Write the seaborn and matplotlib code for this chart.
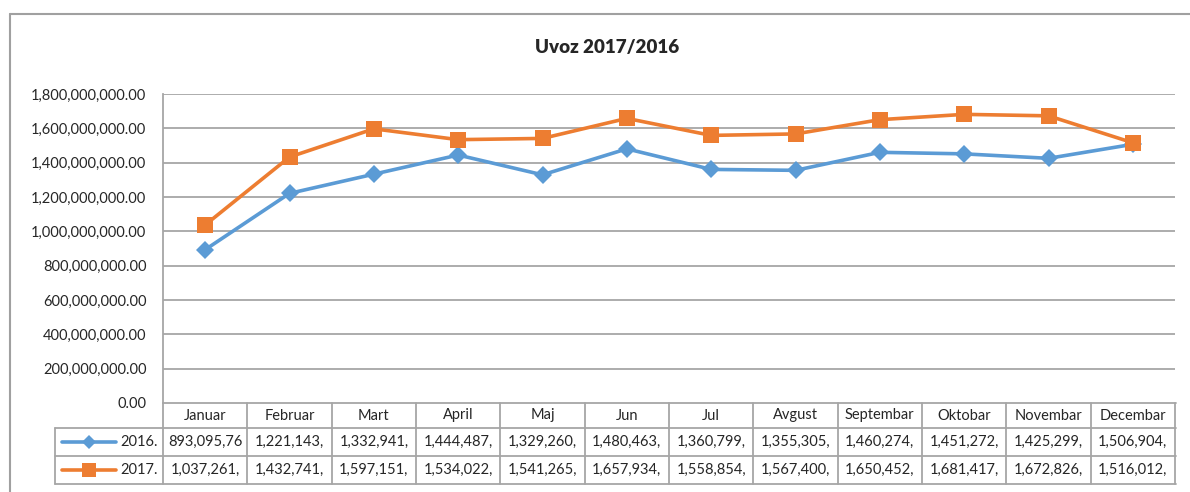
import matplotlib
matplotlib.use('Agg')
import matplotlib.pyplot as plt
import matplotlib.transforms as mtransforms
from matplotlib.lines import Line2D
import pandas as pd
import seaborn as sns

months = ['Januar', 'Februar', 'Mart', 'April', 'Maj', 'Jun', 'Jul', 'Avgust',
          'Septembar', 'Oktobar', 'Novembar', 'Decembar']
uvoz_2016 = [893095760, 1221143000, 1332941000, 1444487000, 1329260000, 1480463000,
             1360799000, 1355305000, 1460274000, 1451272000, 1425299000, 1506904000]
uvoz_2017 = [1037261000, 1432741000, 1597151000, 1534022000, 1541265000, 1657934000,
             1558854000, 1567400000, 1650452000, 1681417000, 1672826000, 1516012000]
series_names = ['2016.', '2017.']
colors = ['#5b9bd5', '#ed7d31']
markers = ['D', 's']
yticks = [0, 200000000, 400000000, 600000000, 800000000, 1000000000,
          1200000000, 1400000000, 1600000000, 1800000000]

data = pd.DataFrame({
    'Mjesec': months * 2,
    'Vrijednost': uvoz_2016 + uvoz_2017,
    'Godina': [series_names[0]] * 12 + [series_names[1]] * 12,
})

sns.set_style('white')
plt.rcParams['font.family'] = ['Lato', 'DejaVu Sans']

W, H = 1190, 492
fig = plt.figure(figsize=(W / 100, H / 100), dpi=100)
ax = fig.add_axes([163 / W, 1 - 403 / H, (1175 - 163) / W, (403 - 94) / H])

grid_c = '#a6a6a6'
for y in yticks[1:]:
    ax.axhline(y, color=grid_c, lw=1.3, zorder=0)

sns.lineplot(data=data, x='Mjesec', y='Vrijednost', hue='Godina', style='Godina',
             palette=colors, markers=markers, dashes=False, linewidth=2.6,
             markersize=9, markeredgewidth=0, legend=False, sort=False, ax=ax)
# bigger squares for 2017
for ln, ms in zip(ax.get_lines()[-2:], [9, 11]):
    ln.set_markersize(ms)

ax.set_xlim(-0.5, 11.5)
ax.set_ylim(0, 1800000000)
ax.set_yticks(yticks)
ax.set_yticklabels([f'{v:,.2f}' for v in yticks], fontsize=10.5)
ax.tick_params(axis='y', length=0, pad=12)
ax.set_xticks([])
ax.set_xlabel('')
ax.set_ylabel('')
for side in ['top', 'right', 'bottom']:
    ax.spines[side].set_visible(False)
ax.spines['left'].set_color(grid_c)
ax.spines['left'].set_linewidth(1.3)

fig.text(607 / W, 1 - 47 / H, 'Uvoz 2017/2016', ha='center', va='center',
         fontsize=13.5, fontweight='heavy')

# data table under the chart
tr = mtransforms.blended_transform_factory(ax.transData, fig.transFigure)
fy = lambda p: 1 - p / H
fx = lambda p: p / W
row_top, row1, row2, row_bot = 403, 428, 456, 484
tbl_c = '#a6a6a6'

# horizontal lines
fig.add_artist(Line2D([fx(163), fx(1176)], [fy(row_top)] * 2, color=tbl_c, lw=1.3))
for yy in [row1, row2, row_bot]:
    fig.add_artist(Line2D([fx(55), fx(1176)], [fy(yy)] * 2, color=tbl_c, lw=1.3))
# vertical lines
for i in range(13):
    fig.add_artist(Line2D([i - 0.5, i - 0.5], [fy(row_top), fy(row_bot)],
                          transform=tr, color=tbl_c, lw=1.3))
fig.add_artist(Line2D([fx(55), fx(55)], [fy(row1), fy(row_bot)], color=tbl_c, lw=1.3))

for i, m in enumerate(months):
    fig.text(i, fy((row_top + row1) / 2), m, transform=tr, ha='center', va='center',
             fontsize=10.5)

for vals, name, c, mk, ms, yy in zip([uvoz_2016, uvoz_2017], series_names, colors,
                                      markers, [7, 10], [row1, row2]):
    yc = fy((yy + yy + 28) / 2)
    for i, v in enumerate(vals):
        fig.text(i, yc, f'{v:,.2f}'[:10], transform=tr, ha='center', va='center',
                 fontsize=10.5)
    fig.add_artist(Line2D([fx(62), fx(116)], [yc, yc], color=c, lw=2.6))
    fig.add_artist(Line2D([fx(89)], [yc], color=c, marker=mk, markersize=ms,
                          markeredgewidth=0))
    fig.text(fx(158), yc, name, ha='right', va='center', fontsize=10.5)

# outer chart border
fig.add_artist(Line2D([fx(10), fx(10)], [fy(14), 0], color='#a0a0a0', lw=1.5))
fig.add_artist(Line2D([fx(10), 1], [fy(14), fy(14)], color='#a0a0a0', lw=1.5))

fig.savefig('out.png', dpi=100)
